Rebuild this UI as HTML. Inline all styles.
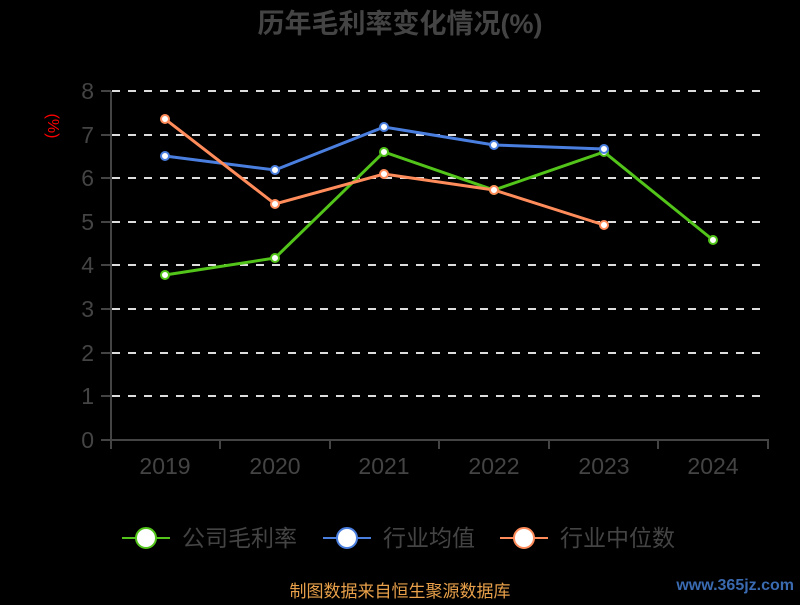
<!DOCTYPE html><html><head><meta charset="utf-8"><style>body{margin:0;background:#000;width:800px;height:600px;overflow:hidden}text{font-family:"Liberation Sans","Noto Sans CJK SC",sans-serif}</style></head><body>
<svg width="800" height="600" xmlns="http://www.w3.org/2000/svg">
<text x="400" y="33" text-anchor="middle" font-size="27" font-weight="bold" fill="#444">历年毛利率变化情况(%)</text>
<text x="48" y="126" text-anchor="middle" font-size="16" fill="#f00" transform="rotate(90 48 126)">(%)</text>
<g stroke="#ddd" stroke-width="2" stroke-dasharray="8,8">
<line x1="112" y1="91" x2="768" y2="91"/><line x1="112" y1="135" x2="768" y2="135"/><line x1="112" y1="178" x2="768" y2="178"/><line x1="112" y1="222" x2="768" y2="222"/><line x1="112" y1="265" x2="768" y2="265"/><line x1="112" y1="309" x2="768" y2="309"/><line x1="112" y1="353" x2="768" y2="353"/><line x1="112" y1="396" x2="768" y2="396"/></g>
<g stroke="#444" stroke-width="2"><line x1="111" y1="91" x2="111" y2="441"/><line x1="110" y1="440" x2="769" y2="440"/>
<line x1="101" y1="91" x2="111" y2="91"/><line x1="101" y1="135" x2="111" y2="135"/><line x1="101" y1="178" x2="111" y2="178"/><line x1="101" y1="222" x2="111" y2="222"/><line x1="101" y1="265" x2="111" y2="265"/><line x1="101" y1="309" x2="111" y2="309"/><line x1="101" y1="353" x2="111" y2="353"/><line x1="101" y1="396" x2="111" y2="396"/><line x1="101" y1="440" x2="111" y2="440"/>
<line x1="111" y1="440" x2="111" y2="449"/><line x1="220" y1="440" x2="220" y2="449"/><line x1="330" y1="440" x2="330" y2="449"/><line x1="439" y1="440" x2="439" y2="449"/><line x1="549" y1="440" x2="549" y2="449"/><line x1="658" y1="440" x2="658" y2="449"/><line x1="768" y1="440" x2="768" y2="449"/></g>
<g font-size="23" fill="#444" text-anchor="end"><text x="94" y="99">8</text><text x="94" y="143">7</text><text x="94" y="186">6</text><text x="94" y="230">5</text><text x="94" y="273">4</text><text x="94" y="317">3</text><text x="94" y="361">2</text><text x="94" y="404">1</text><text x="94" y="448">0</text></g>
<g font-size="23" fill="#444" text-anchor="middle"><text x="165" y="474">2019</text><text x="275" y="474">2020</text><text x="384" y="474">2021</text><text x="494" y="474">2022</text><text x="604" y="474">2023</text><text x="713" y="474">2024</text></g>
<g stroke-width="3" fill="none">
<polyline stroke="#52c41a" points="165,275 275,258 384,152 494,190 604,152 713,240"/>
<polyline stroke="#4a7fe0" points="165,156 275,170 384,127 494,145 604,149"/>
<polyline stroke="#ff8c5a" points="165,119 275,204 384,174 494,190 604,225"/></g>
<g fill="#fff" stroke-width="2">
<g stroke="#52c41a"><circle cx="165" cy="275" r="4"/><circle cx="275" cy="258" r="4"/><circle cx="384" cy="152" r="4"/><circle cx="494" cy="190" r="4"/><circle cx="604" cy="152" r="4"/><circle cx="713" cy="240" r="4"/></g>
<g stroke="#4a7fe0"><circle cx="165" cy="156" r="4"/><circle cx="275" cy="170" r="4"/><circle cx="384" cy="127" r="4"/><circle cx="494" cy="145" r="4"/><circle cx="604" cy="149" r="4"/></g>
<g stroke="#ff8c5a"><circle cx="165" cy="119" r="4"/><circle cx="275" cy="204" r="4"/><circle cx="384" cy="174" r="4"/><circle cx="494" cy="190" r="4"/><circle cx="604" cy="225" r="4"/></g></g>
<g stroke-width="2"><line x1="122" y1="538" x2="170" y2="538" stroke="#52c41a"/><circle cx="146" cy="538" r="10" fill="#fff" stroke="#52c41a"/>
<line x1="323" y1="538" x2="371" y2="538" stroke="#4a7fe0"/><circle cx="347" cy="538" r="10" fill="#fff" stroke="#4a7fe0"/>
<line x1="500" y1="538" x2="548" y2="538" stroke="#ff8c5a"/><circle cx="524" cy="538" r="10" fill="#fff" stroke="#ff8c5a"/></g>
<g font-size="23" fill="#444"><text x="182" y="546">公司毛利率</text><text x="383" y="546">行业均值</text><text x="560" y="546">行业中位数</text></g>
<text x="400" y="597" text-anchor="middle" font-size="17" fill="#e8a04a">制图数据来自恒生聚源数据库</text>
<text x="794" y="590" text-anchor="end" font-size="16" font-weight="bold" fill="#3a6ab0">www.365jz.com</text>
</svg></body></html>
